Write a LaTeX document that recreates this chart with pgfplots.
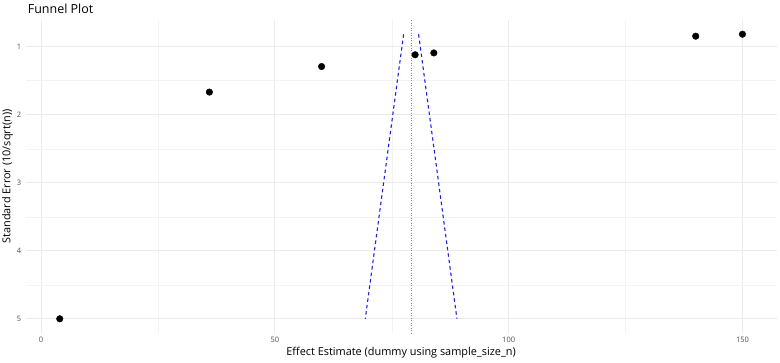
\documentclass[border=0pt]{standalone}
\usepackage{pgfplots}
\pgfplotsset{compat=1.18}
\usepackage{fontspec}
\setmainfont{Open Sans}
\definecolor{gridmaj}{HTML}{EBEBEB}
\definecolor{gridmin}{HTML}{F3F3F3}
\definecolor{tickcol}{HTML}{4D4D4D}
\definecolor{fblue}{HTML}{2020E0}
\definecolor{vred}{RGB}{255,80,80}
\begin{document}
\begin{tikzpicture}[x=1pt,y=1pt]
\path[use as bounding box] (0,0) rectangle (780,363);
\begin{axis}[
  at={(25.6pt,30pt)}, anchor=south west,
  scale only axis, width=751pt, height=313pt,
  xmin=-3.3, xmax=157.3,
  ymin=0.607, ymax=5.209,
  y dir=reverse,
  axis line style={draw=none},
  xtick={0,50,100,150}, ytick={1,2,3,4,5},
  minor xtick={25,75,125}, minor ytick={1.5,2.5,3.5,4.5},
  grid=both,
  major grid style={draw=gridmaj, line width=0.9pt},
  minor grid style={draw=gridmin, line width=0.5pt},
  major tick length=0pt, minor tick length=0pt,
  /pgf/number format/assume math mode=true,
  ticklabel style={font=\fontsize{7.5}{9}\selectfont, text=tickcol},
  xticklabel style={yshift=-1pt},
  yticklabel style={xshift=-1pt},
  xlabel={Effect Estimate (dummy using sample\_size\_n)},
  ylabel={Standard Error (10/sqrt(n))},
  label style={font=\fontsize{10.9}{13}\selectfont},
  xlabel style={yshift=2.5pt},
  ylabel style={yshift=-3pt},
  title={Funnel Plot},
  title style={at={(rel axis cs:0,1)}, anchor=south west, font=\fontsize{12.5}{14}\selectfont, xshift=0pt, yshift=-2pt, inner sep=2pt},
  clip=false,
]
\addplot[color=fblue, dash pattern=on 3.5pt off 3pt, line width=1.1pt, mark=none] coordinates {(77.54,0.8165) (69.34,5)};
\addplot[color=fblue, dash pattern=on 3.5pt off 3pt, line width=1.1pt, mark=none] coordinates {(80.74,0.8165) (88.94,5)};
\addplot[color=vred, line width=0.6pt, dash pattern=on 0.9pt off 1.6pt, mark=none] coordinates {(79.14,0.607) (79.14,5.209)};
\addplot[only marks, mark=*, mark size=3.3pt, black] coordinates {
(4,5) (36,1.667) (60,1.291) (80,1.118) (84,1.091) (140,0.845) (150,0.816)};
\end{axis}
\end{tikzpicture}
\end{document}
